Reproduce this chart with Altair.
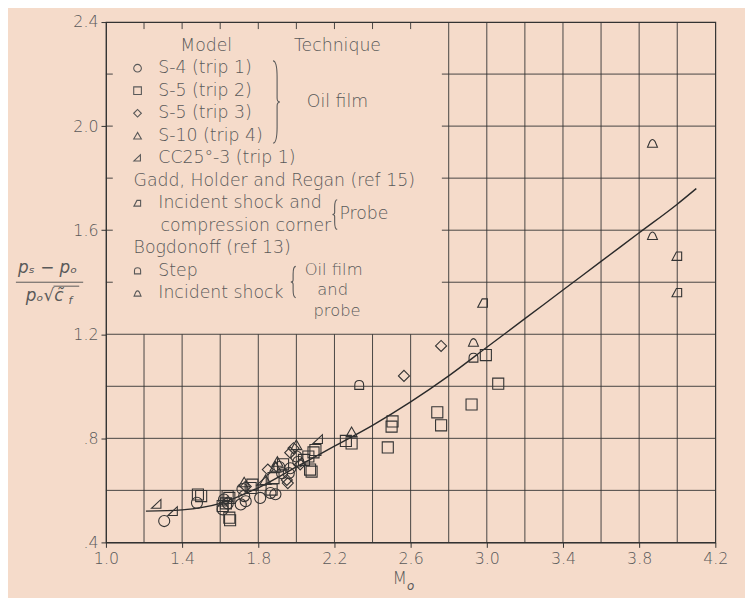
import altair as alt
import pandas as pd

# ---------------- data ----------------
s4_x = [1.306, 1.478, 1.613, 1.62, 1.64, 1.708, 1.726, 1.734, 1.717, 1.81, 1.864, 1.925, 1.96, 1.968, 2.0, 2.01, 1.91, 1.89]
s4_y = [0.482, 0.552, 0.527, 0.565, 0.55, 0.546, 0.578, 0.558, 0.605, 0.571, 0.59, 0.666, 0.666, 0.685, 0.73, 0.71, 0.69, 0.585]

s5a_x = [1.483, 1.5, 1.613, 1.63, 1.639, 1.648, 1.648, 1.652, 1.76, 1.769, 1.87, 1.88, 1.93, 2.04, 2.063, 2.072, 2.08,
         2.09, 2.10, 2.26, 2.29, 2.48, 2.50, 2.505, 2.74, 2.76, 2.92, 2.995, 3.06]
s5a_y = [0.584, 0.578, 0.54, 0.55, 0.578, 0.571, 0.495, 0.485, 0.609, 0.622, 0.603, 0.647, 0.70, 0.717, 0.73, 0.68, 0.672,
         0.746, 0.755, 0.79, 0.78, 0.765, 0.845, 0.865, 0.90, 0.85, 0.93, 1.12, 1.01]

s5b_x = [1.734, 1.85, 1.95, 1.955, 1.968, 1.985, 2.02, 2.565, 2.76]
s5b_y = [0.615, 0.68, 0.64, 0.628, 0.745, 0.762, 0.70, 1.04, 1.155]

s10_x = [1.726, 1.838, 1.89, 1.9, 2.0, 2.29]
s10_y = [0.632, 0.641, 0.692, 0.711, 0.775, 0.825]

cc_x = [1.267, 1.353, 1.615, 1.82, 2.115]
cc_y = [0.546, 0.518, 0.555, 0.635, 0.795]

gadd_x = [2.98, 4.0, 4.0]
gadd_y = [1.32, 1.50, 1.36]

bstep_x = [2.33, 2.93]
bstep_y = [1.005, 1.11]

binc_x = [2.93, 3.87, 3.87]
binc_y = [1.17, 1.935, 1.58]

curve_x = [1.21, 1.4, 1.6, 1.8, 2.0, 2.2, 2.4, 2.6, 2.8, 3.0, 3.2, 3.4, 3.6, 3.8, 4.0, 4.1]
curve_y = [0.52, 0.525, 0.55, 0.61, 0.69, 0.77, 0.85, 0.94, 1.04, 1.15, 1.26, 1.37, 1.48, 1.59, 1.70, 1.76]

x_ticks = [1.0, 1.4, 1.8, 2.2, 2.6, 3.0, 3.4, 3.8, 4.2]
y_ticks = [0.4, 0.8, 1.2, 1.6, 2.0, 2.4]
grid_step = 0.2

series_names = ["S-4 (trip 1)", "S-5 (trip 2)", "S-5 (trip 3)", "S-10 (trip 4)", "CC25°-3 (trip 1)",
                "Gadd", "Bogdonoff step", "Bogdonoff incident"]
series_data = [(s4_x, s4_y), (s5a_x, s5a_y), (s5b_x, s5b_y), (s10_x, s10_y), (cc_x, cc_y),
               (gadd_x, gadd_y), (bstep_x, bstep_y), (binc_x, binc_y)]
series_shapes = [
    "circle", "square", "diamond", "triangle-up",
    "M-0.95,0.7L0.75,0.7L0.75,-0.9Z",
    "M-0.95,0.75L0.8,0.75L0.8,-0.75L-0.15,-0.75Z",
    "M-0.8,0.8L0.8,0.8L0.8,0Q0.8,-0.8 0,-0.8Q-0.8,-0.8 -0.8,0Z",
    "M-0.9,0.75L0.9,0.75L0.45,-0.3Q0,-0.95 -0.45,-0.3Z",
]

# ---------------- tables ----------------
pts = pd.DataFrame([
    {"series": n, "x": xx, "y": yy}
    for n, (xs_, ys_) in zip(series_names, series_data)
    for xx, yy in zip(xs_, ys_)
])
curve = pd.DataFrame({"x": curve_x, "y": curve_y})

X0, X1 = x_ticks[0], x_ticks[-1]
Y0, Y1 = y_ticks[0], y_ticks[-1]
LEG_X, LEG_Y = 2.8, 1.2          # legend box corner (grid hidden above/left of it)
tx, ty = 0.036, 0.027             # short tick length in data units

segs = []
nx = int(round((X1 - X0) / grid_step))
for i in range(1, nx):
    v = round(X0 + i * grid_step, 2)
    if v < LEG_X - 1e-6:
        segs.append({"x": v, "x2": v, "y": Y0, "y2": LEG_Y})
        segs.append({"x": v, "x2": v, "y": Y1 - ty, "y2": Y1})
    else:
        segs.append({"x": v, "x2": v, "y": Y0, "y2": Y1})
ny = int(round((Y1 - Y0) / grid_step))
for j in range(1, ny):
    v = round(Y0 + j * grid_step, 2)
    if v < LEG_Y + 1e-6:
        segs.append({"x": X0, "x2": X1, "y": v, "y2": v})
    else:
        segs.append({"x": LEG_X, "x2": X1, "y": v, "y2": v})
        segs.append({"x": X0, "x2": X0 + tx, "y": v, "y2": v})
        segs.append({"x": LEG_X - tx, "x2": LEG_X, "y": v, "y2": v})
grid = pd.DataFrame(segs)

# legend layout (rows in data units)
row0, dr = 2.309, 0.0865
def ry(i):
    return row0 - i * dr

leg_sym = pd.DataFrame({
    "series": series_names[:5] + ["Gadd", "Bogdonoff step", "Bogdonoff incident"],
    "x": [1.166] * 8,
    "y": [ry(1), ry(2), ry(3), ry(4), ry(5), ry(7), ry(10), ry(11)],
})
leg_txt = pd.DataFrame([
    {"t": "Model", "x": 1.39, "y": ry(0)},
    {"t": "Technique", "x": 1.987, "y": ry(0)},
    {"t": "S-4 (trip 1)", "x": 1.275, "y": ry(1)},
    {"t": "S-5 (trip 2)", "x": 1.275, "y": ry(2)},
    {"t": "S-5 (trip 3)", "x": 1.275, "y": ry(3)},
    {"t": "S-10 (trip 4)", "x": 1.275, "y": ry(4)},
    {"t": "CC25°-3 (trip 1)", "x": 1.275, "y": ry(5)},
    {"t": "Gadd, Holder and Regan (ref 15)", "x": 1.145, "y": ry(6)},
    {"t": "Incident shock and", "x": 1.275, "y": ry(7)},
    {"t": "compression corner", "x": 1.286, "y": ry(8)},
    {"t": "Bogdonoff (ref 13)", "x": 1.145, "y": ry(9)},
    {"t": "Step", "x": 1.275, "y": ry(10)},
    {"t": "Incident shock", "x": 1.275, "y": ry(11)},
    {"t": "Oil film", "x": 2.055, "y": (ry(2) + ry(3)) / 2},
    {"t": "Probe", "x": 2.226, "y": (ry(7) + ry(8)) / 2},
])
leg_txt2 = pd.DataFrame([
    {"t": "Oil film", "x": 2.044, "y": ry(10) + 0.004},
    {"t": "and", "x": 2.11, "y": ry(10) - 0.073},
    {"t": "probe", "x": 2.09, "y": ry(12) + 0.018},
])
braces = pd.DataFrame([
    {"x": 1.888, "y": (ry(1) + ry(4)) / 2, "shape": "M-0.05,-1Q0.05,-1 0.05,-0.6L0.05,-0.1Q0.05,0 0.12,0Q0.05,0 0.05,0.1L0.05,0.6Q0.05,1 -0.05,1", "size": 6900},
    {"x": 2.205, "y": (ry(7) + ry(8)) / 2, "shape": "M0.12,-1Q-0.05,-1 -0.05,-0.5L-0.05,-0.15Q-0.05,0 -0.2,0Q-0.05,0 -0.05,0.15L-0.05,0.5Q-0.05,1 0.12,1", "size": 900},
    {"x": 1.987, "y": (ry(10) + ry(11)) / 2, "shape": "M0.12,-1Q-0.05,-1 -0.05,-0.5L-0.05,-0.15Q-0.05,0 -0.2,0Q-0.05,0 -0.05,0.15L-0.05,0.5Q-0.05,1 0.12,1", "size": 1000},
])

# ---------------- styling ----------------
INK = "#333333"
TXT = "#595959"
FONT = "DejaVu Sans"
BG = "#f5dbca"

xs = alt.Scale(domain=[X0, X1], nice=False, zero=False)
ys = alt.Scale(domain=[Y0, Y1], nice=False, zero=False)
ax_x = alt.Axis(values=x_ticks, format=".1f", grid=False, title=None, domainColor=INK, tickColor=INK,
                tickSize=5, labelFontSize=16, labelColor=TXT, labelFont=FONT, labelFontWeight=200,
                labelPadding=3, labelFlush=False)
ax_y = alt.Axis(values=y_ticks, grid=False, title=None, domainColor=INK, tickColor=INK, tickSize=5,
                labelFontSize=16, labelColor=TXT, labelFont=FONT, labelFontWeight=200, labelPadding=3,
                labelFlush=False,
                labelExpr="datum.value < 1 ? replace(format(datum.value, '.1f'), '0.', '.') : format(datum.value, '.1f')")

def X(f="x"):
    return alt.X(f"{f}:Q", scale=xs, axis=ax_x)

def Y(f="y"):
    return alt.Y(f"{f}:Q", scale=ys, axis=ax_y)

shape_scale = alt.Scale(domain=series_names, range=series_shapes)

grid_layer = alt.Chart(grid).mark_rule(color=INK, strokeWidth=0.9).encode(
    x=X(), x2="x2:Q", y=Y(), y2="y2:Q")

curve_layer = alt.Chart(curve).mark_line(color="#2a2a2a", strokeWidth=1.4, interpolate="monotone").encode(
    x=X(), y=Y())

pt_layer = alt.Chart(pts).mark_point(filled=False, color=INK, strokeWidth=1.1, size=125, opacity=1).encode(
    x=X(), y=Y(), shape=alt.Shape("series:N", scale=shape_scale, legend=None))

leg_pt_layer = alt.Chart(leg_sym).mark_point(filled=False, color=TXT, strokeWidth=1.1, size=60, opacity=1).encode(
    x=X(), y=Y(), shape=alt.Shape("series:N", scale=shape_scale, legend=None))

leg_txt_layer = alt.Chart(leg_txt).mark_text(align="left", baseline="middle", fontSize=17.5, font=FONT,
                                             fontWeight=200, color=TXT).encode(x=X(), y=Y(), text="t:N")
leg_txt_layer2 = alt.Chart(leg_txt2).mark_text(align="left", baseline="middle", fontSize=16.5, font=FONT,
                                               fontWeight=200, color=TXT).encode(x=X(), y=Y(), text="t:N")

brace_layer = alt.Chart(braces).mark_point(filled=False, color=TXT, strokeWidth=1.1, opacity=1).encode(
    x=X(), y=Y(), shape=alt.Shape("shape:N", scale=None), size=alt.Size("size:Q", scale=None))

one = pd.DataFrame({"k": [0]})
ann = []
ann.append(alt.Chart(one).mark_text(fontSize=17, font=FONT, fontWeight=200, color=TXT).encode(
    x=alt.value(297), y=alt.value(563), text=alt.value("M")))
ann.append(alt.Chart(one).mark_text(fontSize=12, font=FONT, fontWeight=200, color=TXT, fontStyle="italic").encode(
    x=alt.value(308), y=alt.value(570), text=alt.value("o")))
ann.append(alt.Chart(one).mark_text(fontSize=17, font=FONT, fontWeight=200, color=TXT, fontStyle="italic").encode(
    x=alt.value(-59), y=alt.value(249), text=alt.value("pₛ − pₒ")))
ann.append(alt.Chart(one).mark_rule(color=TXT, strokeWidth=1).encode(
    x=alt.value(-91), x2=alt.value(-23), y=alt.value(263)))
ann.append(alt.Chart(one).mark_text(fontSize=17, font=FONT, fontWeight=200, color=TXT, fontStyle="italic").encode(
    x=alt.value(-62), y=alt.value(277), text=alt.value("pₒ√c̃")))
ann.append(alt.Chart(one).mark_text(fontSize=11, font=FONT, fontWeight=200, color=TXT, fontStyle="italic").encode(
    x=alt.value(-36), y=alt.value(282), text=alt.value("f")))
ann.append(alt.Chart(one).mark_rule(color=TXT, strokeWidth=1).encode(
    x=alt.value(-53), x2=alt.value(-27), y=alt.value(267)))

chart = alt.layer(grid_layer, curve_layer, pt_layer, leg_pt_layer, leg_txt_layer, leg_txt_layer2,
                  brace_layer, *ann).properties(
    width=616, height=526,
    autosize=alt.AutoSizeParams(type="none"),
    padding={"left": 99, "top": 11, "right": 30, "bottom": 53},
    background=BG,
).configure_view(stroke=INK, strokeWidth=1.2)

chart.save("out.html", embed_options={"renderer": "svg", "actions": False})
